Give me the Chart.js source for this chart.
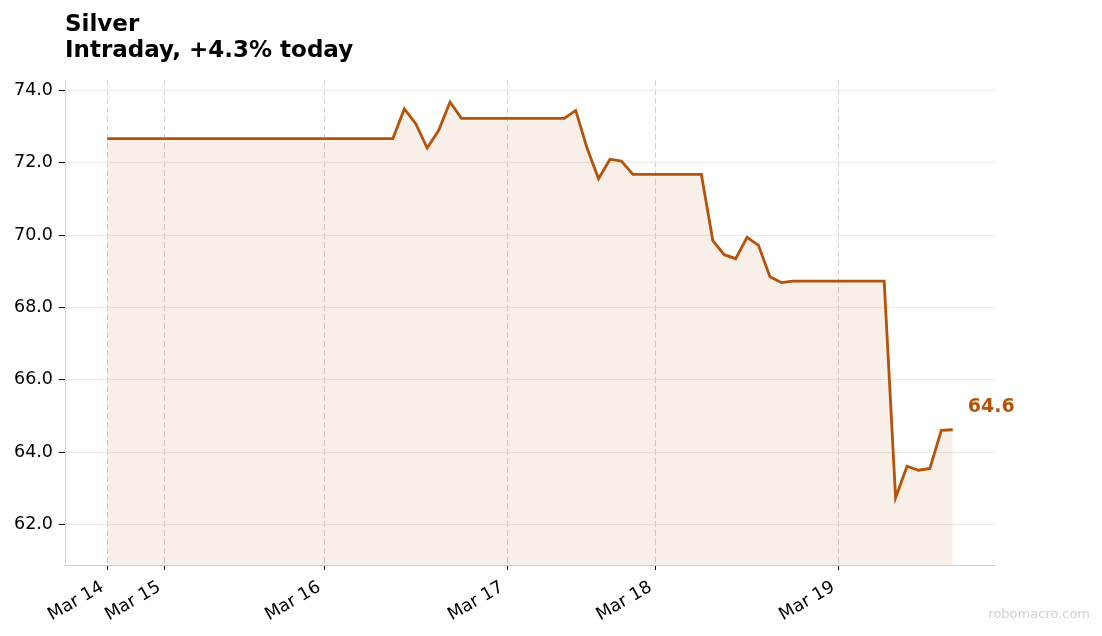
<!DOCTYPE html>
<html>
<head>
<meta charset="utf-8">
<script src="https://cdn.jsdelivr.net/npm/chart.js@4"></script>
<style>
  html, body { margin: 0; padding: 0; background: #fff; }
  #wrap { width: 1102px; height: 636px; position: relative; }
</style>
</head>
<body>
<div id="wrap"><canvas id="my-chart"></canvas></div>
<script>
'use strict';

// ******* DATA *********
let chartTitle = 'Silver';
let chartSubtitle = 'Intraday, +4.3% today';

// one value per intraday sample (index on the x axis)
let silverPrices = [
  72.67, 72.67, 72.67, 72.67, 72.67, 72.67, 72.67, 72.67, 72.67, 72.67,
  72.67, 72.67, 72.67, 72.67, 72.67, 72.67, 72.67, 72.67, 72.67, 72.67,
  72.67, 72.67, 72.67, 72.67, 72.67, 72.67, 73.49, 73.08, 72.41, 72.89,
  73.68, 73.23, 73.23, 73.23, 73.23, 73.23, 73.23, 73.23, 73.23, 73.23,
  73.23, 73.45, 72.40, 71.56, 72.10, 72.05, 71.68, 71.68, 71.68, 71.68,
  71.68, 71.68, 71.68, 69.85, 69.46, 69.35, 69.94, 69.72, 68.85, 68.69,
  68.73, 68.73, 68.73, 68.73, 68.73, 68.73, 68.73, 68.73, 68.73, 62.74,
  63.61, 63.50, 63.55, 64.60, 64.62
];

// sample index where each day starts, and its label
let dayStarts = [0, 5, 19, 35, 48, 64];
let dayLabels = ['Mar 14', 'Mar 15', 'Mar 16', 'Mar 17', 'Mar 18', 'Mar 19'];

let yTicks = [62, 64, 66, 68, 70, 72, 74];

// ******* STYLE *********
let lineColor = '#b45309';
let fillColor = 'rgba(180, 83, 9, 0.09)';
let fontFamily = '"DejaVu Sans", sans-serif';

let ctx = document.getElementById('my-chart');

// ****** HELPERS ******
let points = silverPrices.map((v, i) => ({ x: i, y: v }));

let textPlugin = {
  id: 'textPlugin',
  afterDraw(chart) {
    let c = chart.ctx;
    c.save();
    // title block
    c.fillStyle = '#000';
    c.font = 'bold 23px ' + fontFamily;
    c.textAlign = 'left';
    c.textBaseline = 'alphabetic';
    c.fillText(chartTitle, 65, 31);
    c.fillText(chartSubtitle, 65, 56.5);

    // last value label
    let last = silverPrices.length - 1;
    let px = chart.scales.x.getPixelForValue(last);
    let py = chart.scales.y.getPixelForValue(silverPrices[last]);
    c.fillStyle = lineColor;
    c.font = 'bold 19px ' + fontFamily;
    c.textBaseline = 'middle';
    c.fillText(silverPrices[last].toFixed(1), px + 15, py - 23);

    // watermark
    c.fillStyle = '#d0d0d0';
    c.font = '13px ' + fontFamily;
    c.textAlign = 'right';
    c.fillText('robomacro.com', 1090, 615);
    c.restore();
  }
};

let chartObj = {
  type: 'line',
  data: {
    datasets: [{
      data: points,
      borderColor: lineColor,
      borderWidth: 2.8,
      backgroundColor: fillColor,
      fill: 'start',
      pointRadius: 0,
      tension: 0
    }]
  },
  options: {
    responsive: true,
    maintainAspectRatio: false,
    animation: false,
    layout: { padding: { left: 0, right: 107, top: 80, bottom: 0 } },
    plugins: {
      legend: { display: false },
      tooltip: { enabled: false }
    },
    scales: {
      x: {
        type: 'linear',
        min: -3.7,
        max: 77.7,
        afterBuildTicks(scale) {
          scale.ticks = dayStarts.map(v => ({ value: v }));
        },
        afterFit(scale) {
          scale.height = 71;
        },
        ticks: {
          autoSkip: false,
          minRotation: 30,
          maxRotation: 30,
          color: '#000',
          padding: 7,
          labelOffset: -5,
          font: { family: fontFamily, size: 17.5 },
          callback(value) {
            let i = dayStarts.indexOf(value);
            return i >= 0 ? dayLabels[i] : '';
          }
        },
        grid: {
          color: '#d2d2d2',
          tickColor: '#000',
          tickLength: 5,
          lineWidth: 1
        },
        border: { color: '#d0d0d0', width: 1, dash: [6, 3] }
      },
      y: {
        min: 60.88,
        max: 74.29,
        afterBuildTicks(scale) {
          scale.ticks = yTicks.map(v => ({ value: v }));
        },
        afterFit(scale) {
          scale.width = 65;
        },
        ticks: {
          color: '#000',
          padding: 6,
          font: { family: fontFamily, size: 17.5 },
          callback(value) {
            return value.toFixed(1);
          }
        },
        grid: {
          color: '#ebebeb',
          tickColor: '#000',
          tickLength: 6,
          lineWidth: 1
        },
        border: { color: '#d4d4e4', width: 1 }
      }
    }
  },
  plugins: [textPlugin]
};

new Chart(ctx, chartObj); //eslint-disable-line
</script>
</body>
</html>
